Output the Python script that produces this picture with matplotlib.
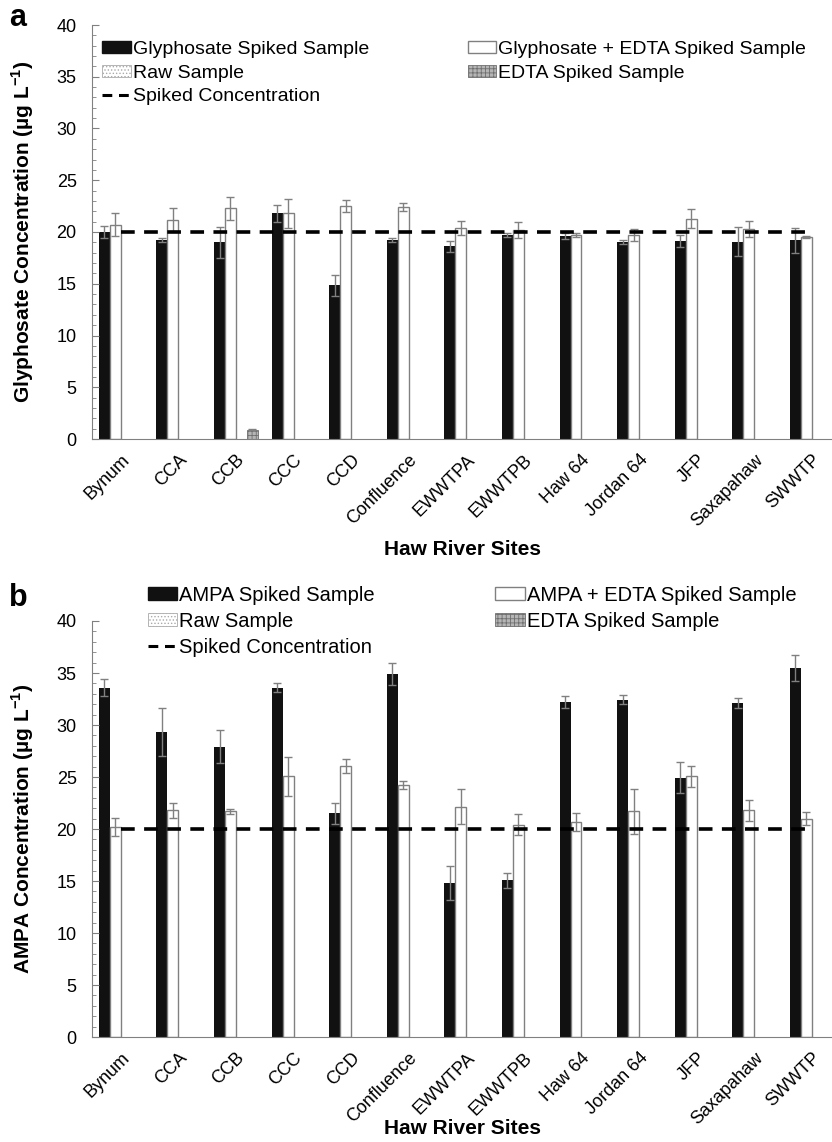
import numpy as np
import matplotlib
matplotlib.use("Agg")
import matplotlib.pyplot as plt
from matplotlib.patches import Patch
from matplotlib.lines import Line2D
from matplotlib.ticker import MultipleLocator

plt.rcParams['font.family'] = ['Liberation Sans', 'DejaVu Sans']
plt.rcParams['mathtext.fontset'] = 'custom'
plt.rcParams['mathtext.rm'] = 'Liberation Sans:bold'
plt.rcParams['mathtext.bf'] = 'Liberation Sans:bold'
plt.rcParams['hatch.linewidth'] = 0.6

# --- Data ---
sites = ['Bynum', 'CCA', 'CCB', 'CCC', 'CCD', 'Confluence', 'EWWTPA', 'EWWTPB',
         'Haw 64', 'Jordan 64', 'JFP', 'Saxapahaw', 'SWWTP']

gly_spiked = [20.0, 19.2, 19.0, 21.8, 14.85, 19.2, 18.6, 19.7, 19.6, 19.05, 19.15, 19.05, 19.2]
gly_spiked_err = [0.6, 0.2, 1.5, 0.8, 1.0, 0.2, 0.5, 0.2, 0.3, 0.2, 0.6, 1.4, 1.2]
gly_edta = [20.7, 21.2, 22.3, 21.8, 22.5, 22.4, 20.4, 20.2, 19.7, 19.7, 21.3, 20.3, 19.55]
gly_edta_err = [1.1, 1.1, 1.1, 1.4, 0.55, 0.4, 0.7, 0.8, 0.2, 0.6, 0.9, 0.8, 0.1]
gly_raw = [0, 0, 0, 0, 0, 0, 0, 0, 0, 0, 0, 0, 0]
gly_edta_only = [0, 0, 0.9, 0, 0, 0, 0, 0, 0, 0, 0, 0, 0]
gly_edta_only_err = [0, 0, 0.05, 0, 0, 0, 0, 0, 0, 0, 0, 0, 0]

ampa_spiked = [33.6, 29.3, 27.9, 33.6, 21.5, 34.9, 14.8, 15.05, 32.2, 32.45, 24.95, 32.1, 35.5]
ampa_spiked_err = [0.8, 2.3, 1.6, 0.45, 1.0, 1.05, 1.6, 0.7, 0.55, 0.4, 1.5, 0.45, 1.25]
ampa_edta = [20.2, 21.8, 21.7, 25.05, 26.05, 24.2, 22.15, 20.4, 20.65, 21.7, 25.05, 21.8, 21.0]
ampa_edta_err = [0.9, 0.7, 0.25, 1.9, 0.7, 0.4, 1.7, 1.0, 0.85, 2.15, 1.0, 1.0, 0.6]
ampa_raw = [0, 0, 0, 0, 0, 0, 0, 0, 0, 0, 0, 0, 0]
ampa_edta_only = [0, 0, 0, 0, 0, 0, 0, 0, 0, 0, 0, 0, 0]
ampa_edta_only_err = [0, 0, 0, 0, 0, 0, 0, 0, 0, 0, 0, 0, 0]

spiked_conc = 20

GREY = '#808080'
W = 0.19
err_kw = dict(ecolor=GREY, elinewidth=1, capsize=3, capthick=1, ls='none')


def panel(ax, spiked, spiked_err, edta, edta_err, raw, edta_only, edta_only_err,
          letter, ylabel, name, leg_pos, letter_y, xlab_y):
    x = np.arange(len(sites))
    ax.bar(x - 1.5 * W, spiked, W, color='#111111')
    ax.errorbar(x - 1.5 * W, spiked, yerr=spiked_err, **err_kw)
    ax.bar(x - 0.5 * W, edta, W, color='white', edgecolor=GREY, linewidth=1)
    ax.errorbar(x - 0.5 * W, edta, yerr=edta_err, **err_kw)

    # raw / EDTA-only bars: only outline the ones that have a value
    raw = np.array(raw, dtype=float)
    ax.bar(x + 0.5 * W, raw, W, color='white', edgecolor='#aaaaaa', hatch='.....',
           linewidth=np.where(raw > 0, 0.6, 0))
    only = np.array(edta_only, dtype=float)
    ax.bar(x + 1.5 * W, only, W, color='#b5b5b5', edgecolor='#6f6f6f', hatch='++++',
           linewidth=np.where(only > 0, 0.6, 0))
    keep = only > 0
    if keep.any():
        ax.errorbar((x + 1.5 * W)[keep], only[keep],
                    yerr=np.array(edta_only_err)[keep], **err_kw)

    ax.plot(x, [spiked_conc] * len(x), color='black', lw=2.6, ls=(0, (3.8, 2.6)))

    ax.set_xlim(-0.5, 12.35)
    ax.set_ylim(0, 40)
    ax.yaxis.set_major_locator(MultipleLocator(5))
    ax.yaxis.set_minor_locator(MultipleLocator(1))
    ax.tick_params(axis='y', which='major', direction='in', length=5, color=GREY,
                   labelsize=13, pad=11)
    ax.tick_params(axis='y', which='minor', direction='in', length=3, color=GREY)
    ax.set_xticks(x)
    ax.set_xticklabels(sites, rotation=45, ha='right', rotation_mode='anchor', fontsize=13)
    ax.tick_params(axis='x', length=0, pad=9)
    for s in ['top', 'right']:
        ax.spines[s].set_visible(False)
    for s in ['left', 'bottom']:
        ax.spines[s].set_color(GREY)

    ax.set_ylabel(ylabel, fontsize=15, fontweight='bold')
    ax.yaxis.set_label_coords(-0.076, 0.5)
    ax.set_xlabel('Haw River Sites', fontsize=15, fontweight='bold')
    ax.xaxis.set_label_coords(0.5, xlab_y)
    ax.text(-0.112, letter_y, letter, transform=ax.transAxes, fontsize=22,
            fontweight='bold', va='center', ha='left')

    h_spk = Patch(facecolor='#111111', edgecolor='#111111')
    h_edta = Patch(facecolor='white', edgecolor=GREY)
    h_raw = Patch(facecolor='white', edgecolor='#aaaaaa', hatch='.....', linewidth=0.6)
    h_only = Patch(facecolor='#b5b5b5', edgecolor='#6f6f6f', hatch='++++', linewidth=0.6)
    h_line = Line2D([], [], color='black', lw=2.2, ls=(0, (3.2, 2.2)))
    leg_kw = dict(frameon=False, fontsize=leg_pos[3], handlelength=1.45, handleheight=0.55,
                  handletextpad=0.12, borderpad=0, borderaxespad=0, labelspacing=0.35,
                  loc='upper left')
    leg1 = ax.legend([h_spk, h_raw, h_line],
                     [name + ' Spiked Sample', 'Raw Sample', 'Spiked Concentration'],
                     bbox_to_anchor=(leg_pos[0], leg_pos[2]), **leg_kw)
    ax.add_artist(leg1)
    ax.legend([h_edta, h_only],
              [name + ' + EDTA Spiked Sample', 'EDTA Spiked Sample'],
              bbox_to_anchor=(leg_pos[1], leg_pos[2]), **leg_kw)


fig = plt.figure(figsize=(8.32, 11.42), dpi=100)
ax_a = fig.add_axes([92 / 832, 1 - 439 / 1142, 740 / 832, 414 / 1142])
ax_b = fig.add_axes([92 / 832, 1 - 1037 / 1142, 740 / 832, 416 / 1142])

panel(ax_a, gly_spiked, gly_spiked_err, gly_edta, gly_edta_err, gly_raw,
      gly_edta_only, gly_edta_only_err, 'a',
      r'Glyphosate Concentration (µg L$^{\mathbf{-1}}$)', 'Glyphosate',
      (0.014, 0.508, 0.962, 14), 1.017, -0.243)
panel(ax_b, ampa_spiked, ampa_spiked_err, ampa_edta, ampa_edta_err, ampa_raw,
      ampa_edta_only, ampa_edta_only_err, 'b',
      r'AMPA Concentration (µg L$^{\mathbf{-1}}$)', 'AMPA',
      (0.075, 0.545, 1.085, 14.5), 1.055, -0.198)

fig.savefig('out.png', dpi=100)
